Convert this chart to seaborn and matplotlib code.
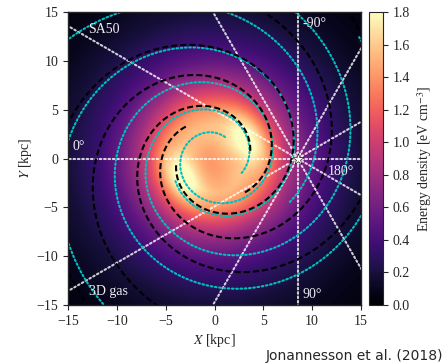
import numpy as np
import matplotlib
matplotlib.use("Agg")
import matplotlib.pyplot as plt
from matplotlib.patches import Circle
import seaborn as sns

# ---------------- data ----------------
sun_x = 8.5
sun_y = 0.0
sight_longitudes = [0, 30, 60, 90, 120, 150]

# black dashed spiral arms (3D gas): r = r_ref * exp(k * (theta - theta_ref))
gas_arm_rref = [5.4, 5.23, 5.7, 7.9]
gas_arm_thref = [180, 90, 0, 0]
gas_arm_k = [0.245, 0.245, 0.24, 0.23]
gas_arm_start = [132, 12, -48, -170]
gas_arm_end = [560, 460, 300, 240]

# cyan dotted spiral arms (SA50)
sa_arm_rref = [5.9, 8.0, 13.6, 10.2]
sa_arm_thref = [360, 0, 0, 0]
sa_arm_k = [0.17, 0.21, 0.216, 0.26]
sa_arm_start = [64, -150, -388, -30]
sa_arm_end = [760, 240, 80, 150]

# radial profile of the energy density [eV cm^-3]
prof_R = [0, 2, 3.5, 5, 6.5, 8, 10, 12, 15, 18, 22]
prof_u = [1.36, 1.38, 1.38, 1.26, 1.0, 0.75, 0.50, 0.34, 0.19, 0.10, 0.04]
arm_boost = 0.14
arm_width = 1.5
# bright bar ends
bar_angle = [30, 210]
bar_radius = [4.0, 4.0]
bar_amp = [0.38, 0.38]
bar_sig_r = 1.2
bar_sig_t = 2.0

cbar_ticks = [0.0, 0.2, 0.4, 0.6, 0.8, 1.0, 1.2, 1.4, 1.6, 1.8]
axis_ticks = [-15, -10, -5, 0, 5, 10, 15]

labels_text = ["SA50", "3D gas", "0°", "-90°", "180°", "90°"]
labels_x = [-12.9, -12.9, -14.5, 9.0, 11.6, 9.0]
labels_y = [12.9, -14.0, 0.9, 13.5, -1.7, -14.3]

# ---------------- helpers ----------------
def arm_xy(rref, thref, k, start, end, rmax=26.0):
    th = np.radians(np.linspace(start, end, 900))
    r = rref * np.exp(k * (th - np.radians(thref)))
    m = r < rmax
    return r[m] * np.cos(th[m]), r[m] * np.sin(th[m])

# ---------------- style ----------------
sns.set_style("ticks")
plt.rcParams["font.family"] = ["Liberation Serif", "DejaVu Serif"]
plt.rcParams["mathtext.fontset"] = "stix"
plt.rcParams["font.size"] = 10
plt.rcParams["xtick.direction"] = "out"
plt.rcParams["ytick.direction"] = "out"

fig = plt.figure(figsize=(4.46, 3.64), dpi=100)
ax = fig.add_axes([68 / 446, 59 / 364, 293 / 446, 293 / 364])
cax = fig.add_axes([369 / 446, 59 / 364, 14 / 446, 293 / 364])

# ---------------- energy density field ----------------
n = 241
g = np.linspace(-15, 15, n)
X, Y = np.meshgrid(g, g)
R = np.hypot(X, Y)
base = np.interp(R, prof_R, prof_u)
pts_x = X.ravel()[:, None]
pts_y = Y.ravel()[:, None]
S = np.zeros(X.size)
for i in range(len(sa_arm_rref)):
    axr, ayr = arm_xy(sa_arm_rref[i], sa_arm_thref[i], sa_arm_k[i],
                      sa_arm_start[i], sa_arm_end[i])
    d2 = np.full(X.size, np.inf)
    for c in range(0, len(axr), 100):
        dx = pts_x - axr[None, c:c + 100]
        dy = pts_y - ayr[None, c:c + 100]
        d2 = np.minimum(d2, (dx * dx + dy * dy).min(axis=1))
    S += np.exp(-d2 / (2 * arm_width ** 2))
S = np.minimum(S.reshape(X.shape), 1.3)
u = base * (1 + arm_boost * np.exp(-R / 9.0) * S)
for ang, rb, amp in zip(bar_angle, bar_radius, bar_amp):
    a = np.radians(ang)
    ca, sa = np.cos(a), np.sin(a)
    along = X * ca + Y * sa - rb
    across = -X * sa + Y * ca
    u = u + amp * np.exp(-along ** 2 / (2 * bar_sig_r ** 2)
                         - across ** 2 / (2 * bar_sig_t ** 2))
u = np.clip(u, 0, 1.8)

im = ax.imshow(u, origin="lower", extent=[-15, 15, -15, 15], cmap="magma",
               vmin=0, vmax=1.8, interpolation="bilinear", aspect="auto")

# ---------------- lines of sight ----------------
L = 60.0
for lon in sight_longitudes:
    a = np.radians(lon)
    dxv, dyv = -np.cos(a), -np.sin(a)
    sns.lineplot(x=[sun_x - L * dxv, sun_x + L * dxv],
                 y=[sun_y - L * dyv, sun_y + L * dyv],
                 ax=ax, sort=False, estimator=None, color="white", alpha=0.8,
                 lw=1.5, linestyle=(0, (0.8, 1.3)), dash_capstyle="round")

# ---------------- spiral arms ----------------
for i in range(len(sa_arm_rref)):
    xs, ys = arm_xy(sa_arm_rref[i], sa_arm_thref[i], sa_arm_k[i],
                    sa_arm_start[i], sa_arm_end[i])
    sns.lineplot(x=xs, y=ys, ax=ax, sort=False, estimator=None,
                 color="#00bfbf", lw=1.5, linestyle=(0, (0.8, 1.25)),
                 dash_capstyle="round")

for i in range(len(gas_arm_rref)):
    xs, ys = arm_xy(gas_arm_rref[i], gas_arm_thref[i], gas_arm_k[i],
                    gas_arm_start[i], gas_arm_end[i])
    sns.lineplot(x=xs, y=ys, ax=ax, sort=False, estimator=None,
                 color="black", lw=1.5, linestyle=(0, (2.9, 1.5)))

# ---------------- Sun ----------------
ax.add_patch(Circle((sun_x, sun_y), 0.55, fill=False, ec="white", lw=1.2,
                    ls=(0, (0.8, 1.2)), zorder=5))
sns.scatterplot(x=[sun_x], y=[sun_y], ax=ax, marker="*", s=70, color="white",
                edgecolor="black", linewidth=0.4, zorder=6)

for t, x, y in zip(labels_text, labels_x, labels_y):
    ax.text(x, y, t, color="#f0eef2", fontsize=10, ha="left", va="baseline")

ax.set_xlim(-15, 15)
ax.set_ylim(-15, 15)
ax.set_xticks(axis_ticks)
ax.set_yticks(axis_ticks)
ax.set_xlabel("$X$ [kpc]", fontsize=10, labelpad=3)
ax.set_ylabel("$Y$ [kpc]", fontsize=10, labelpad=2)
ax.tick_params(labelsize=10, direction="out")
for sp in ax.spines.values():
    sp.set_linewidth(1.0)

cb = fig.colorbar(im, cax=cax, ticks=cbar_ticks)
cb.ax.set_yticklabels([f"{v:.1f}" for v in cbar_ticks])
cb.ax.tick_params(labelsize=10, direction="out")
cb.set_label("Energy density [eV cm$^{-3}$]", fontsize=10)

fig.text(0.993, 0.022, "Jonannesson et al. (2018)", ha="right", va="center",
         fontsize=10, family="DejaVu Sans")

fig.savefig("out.png", dpi=100)
